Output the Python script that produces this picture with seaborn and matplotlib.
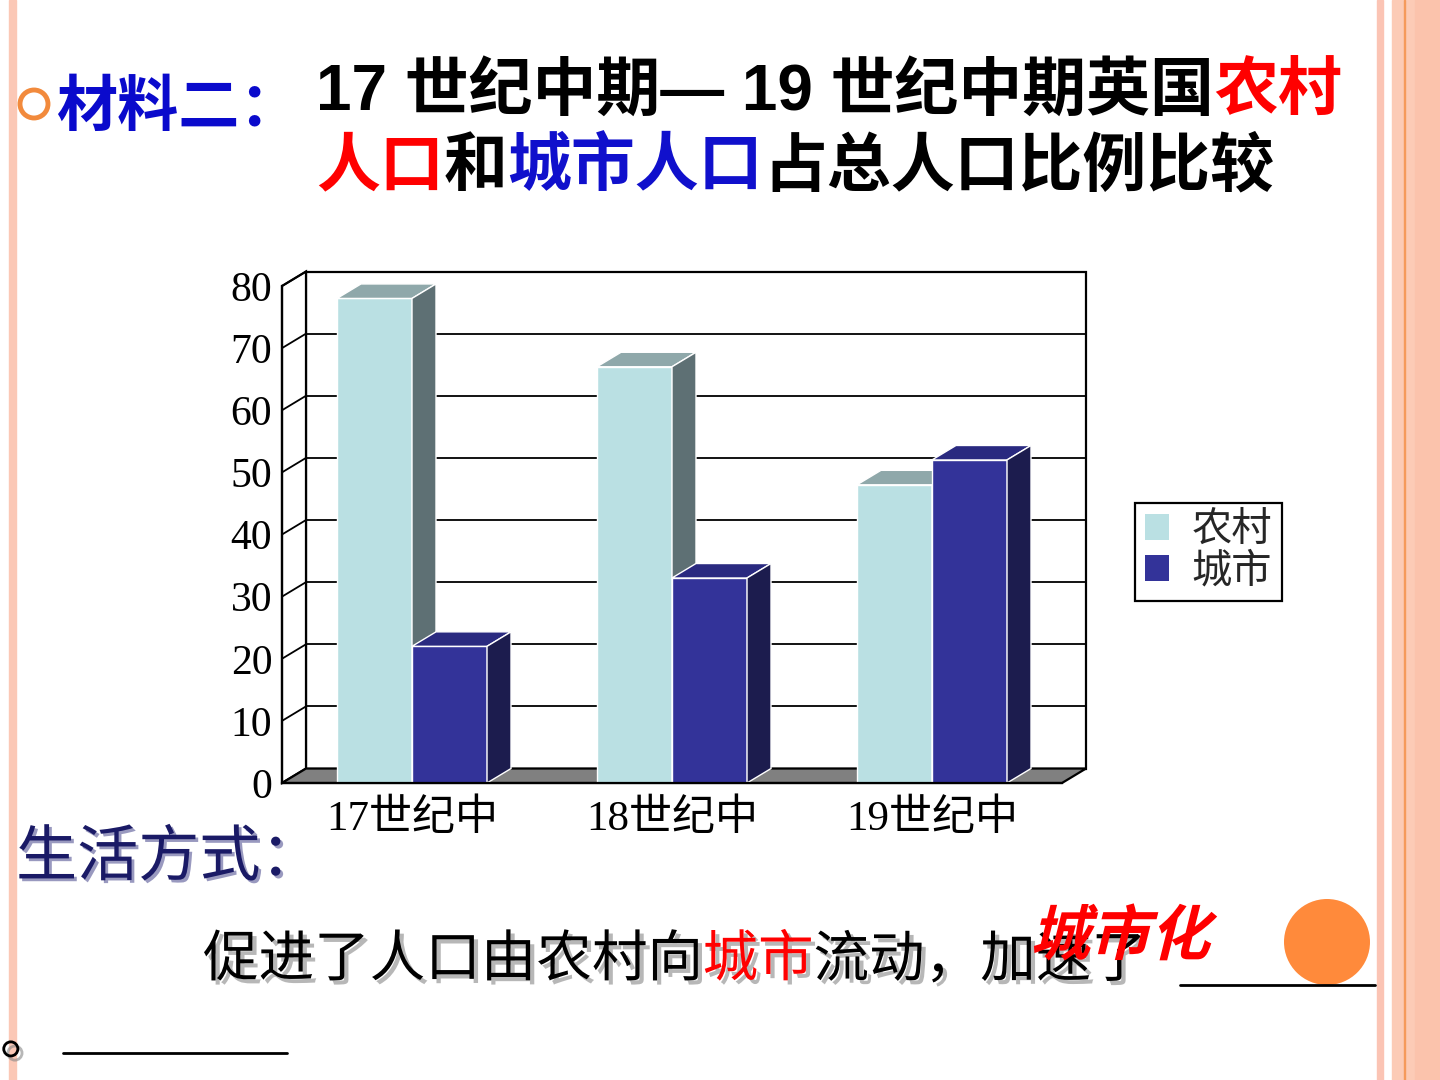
import matplotlib
matplotlib.use("Agg")
import matplotlib.pyplot as plt
import matplotlib.patheffects as pe
from matplotlib.patches import Rectangle, Polygon, Ellipse, Patch, PathPatch
from matplotlib.textpath import TextPath
from matplotlib.font_manager import FontProperties
from matplotlib.transforms import Affine2D
import seaborn as sns
import pandas as pd

# data (share of total population, %)
periods = ['17世纪中', '18世纪中', '19世纪中']
series = ['农村', '城市']
rural = [78, 67, 48]
urban = [22, 33, 52]
yticks = [0, 10, 20, 30, 40, 50, 60, 70, 80]

front_colors = ['#BAE0E3', '#333399']
top_colors = ['#8FA8AA', '#2A2A80']
side_colors = ['#5E7074', '#1C1C4E']

df = pd.DataFrame({
    '时期': periods * 2,
    '类型': [series[0]] * 3 + [series[1]] * 3,
    '比例': rural + urban,
})

sns.set_theme(style='white')
plt.rcParams['font.family'] = ['Liberation Sans', 'Noto Sans CJK SC', 'DejaVu Sans']
CJK = ['Liberation Sans', 'Noto Sans CJK SC']
SERIF = ['Liberation Serif', 'Noto Sans CJK SC']

W, H = 1440, 1080
fig = plt.figure(figsize=(14.4, 10.8), dpi=100)
fig.patch.set_facecolor('white')


def fx(x):
    return x / W


def fy(y):
    return 1 - y / H


# slide border stripes
fig.patches.append(Rectangle((fx(9), 0), fx(7), 1, transform=fig.transFigure, color='#FBC8B6', zorder=0))
fig.patches.append(Rectangle((fx(1377), 0), fx(6), 1, transform=fig.transFigure, color='#FBC4B4', zorder=0))
fig.patches.append(Rectangle((fx(1392), 0), fx(48), 1, transform=fig.transFigure, color='#FCCBB6', zorder=0))
fig.patches.append(Rectangle((fx(1415), 0), fx(25), 1, transform=fig.transFigure, color='#FBC3AC', zorder=0))
fig.patches.append(Rectangle((fx(1403.5), 0), fx(1.5), 1, transform=fig.transFigure, color='#F59A5C', zorder=0))

# chart (front plane of the 3d box)
ax = fig.add_axes([fx(282), fy(783), 780 / W, 497 / H])
ax.set_facecolor('none')
sns.barplot(data=df, x='时期', y='比例', hue='类型', palette=front_colors, saturation=1,
            width=0.577, edgecolor='white', linewidth=1, legend=False, ax=ax)

L, R = -0.5, 2.5
ddx, ddy = 0.0923, 2.33
ax.set_xlim(L, R)
ax.set_ylim(0, 80)

# back wall, side wall, gridlines, floor
ax.add_patch(Rectangle((L + ddx, ddy), R - L, 80, facecolor='white', edgecolor='black',
                       lw=1.6, clip_on=False, zorder=0.5))
ax.add_patch(Polygon([(L, 0), (L + ddx, ddy), (L + ddx, 80 + ddy), (L, 80)], closed=True,
                     facecolor='white', edgecolor='black', lw=1.6, clip_on=False, zorder=0.5))
for v in yticks[1:]:
    ax.plot([L + ddx, R + ddx], [v + ddy, v + ddy], color='black', lw=1.3, clip_on=False, zorder=0.6)
    ax.plot([L, L + ddx], [v, v + ddy], color='black', lw=1.3, clip_on=False, zorder=0.6)
ax.add_patch(Polygon([(L, 0), (R, 0), (R + ddx, ddy), (L + ddx, ddy)], closed=True,
                     facecolor='#808080', edgecolor='black', lw=1.6, clip_on=False, zorder=1))

# 3d faces of the bars
for i, cont in enumerate(ax.containers):
    for bar in cont:
        x0, w, h = bar.get_x(), bar.get_width(), bar.get_height()
        bar.set_zorder(3 + i)
        top = [(x0, h), (x0 + w, h), (x0 + w + ddx, h + ddy), (x0 + ddx, h + ddy)]
        side = [(x0 + w, 0), (x0 + w + ddx, ddy), (x0 + w + ddx, h + ddy), (x0 + w, h)]
        ax.add_patch(Polygon(top, closed=True, facecolor=top_colors[i], edgecolor='white',
                             lw=1, clip_on=False, zorder=3.1 + i))
        ax.add_patch(Polygon(side, closed=True, facecolor=side_colors[i], edgecolor='white',
                             lw=1, clip_on=False, zorder=3.1 + i))

for s in ['top', 'right']:
    ax.spines[s].set_visible(False)
for s in ['left', 'bottom']:
    ax.spines[s].set_color('black')
    ax.spines[s].set_linewidth(1.6)
    ax.spines[s].set_zorder(6)

ax.set_yticks(yticks)
ax.set_xticks([0, 1, 2])
ax.set_xticklabels(periods)
ax.set_xticks([-0.5, 0.5, 1.5, 2.5], minor=True)
ax.tick_params(axis='y', direction='in', length=6, width=1.5, color='black', labelsize=30, pad=7)
ax.tick_params(axis='x', which='major', length=0, labelsize=31, pad=12)
ax.tick_params(axis='x', which='minor', direction='in', length=7, width=1.5, color='black')
for lab in ax.get_yticklabels() + ax.get_xticklabels():
    lab.set_fontfamily(SERIF)
    lab.set_color('black')
ax.set_xlabel('')
ax.set_ylabel('')

# legend
handles = [Patch(facecolor=c, edgecolor='none') for c in front_colors]
leg = fig.legend(handles, series, loc='upper left', bbox_to_anchor=(fx(1135), fy(503)),
                 frameon=True, fancybox=False, framealpha=1, edgecolor='black',
                 prop=FontProperties(family=SERIF, size=29), labelspacing=0.08, borderpad=0.25,
                 handlelength=0.6, handleheight=0.6, handletextpad=0.55, borderaxespad=0)
leg.get_frame().set_linewidth(1.6)

renderer = fig.canvas.get_renderer()


def line_of_text(x, y, parts, **kw):
    # put differently coloured pieces one after another
    pos = fx(x)
    for text, color in parts:
        t = fig.text(pos, fy(y), text, color=color, va='center', ha='left', **kw)
        pos += t.get_window_extent(renderer).width / W


# header
fig.patches.append(Ellipse((fx(34), fy(104)), 28 / W, 28 / H, transform=fig.transFigure,
                           facecolor='none', edgecolor='#F28A3C', lw=3.5))
fig.text(fx(56), fy(110), '材料二：', color='#0A0ACC', fontsize=44, fontweight='bold',
         family=CJK, va='center', ha='left')
line_of_text(316, 92, [('17 世纪中期— 19 世纪中期英国', 'black'), ('农村', '#FF0000')],
             fontsize=46, fontweight='bold', family=CJK)
line_of_text(316, 168, [('人口', '#FF0000'), ('和', 'black'), ('城市人口', '#1010CC'),
                        ('占总人口比例比较', 'black')],
             fontsize=46, fontweight='bold', family=CJK)

# bottom text
fig.text(fx(16), fy(860), '生活方式：', color='#1A1A66', fontsize=44, family=CJK, va='center',
         path_effects=[pe.SimplePatchShadow(offset=(2, -2), shadow_rgbFace='#8080B0', alpha=0.8),
                       pe.Normal()])
shadow = [pe.SimplePatchShadow(offset=(3, -3), shadow_rgbFace='#888888', alpha=0.6), pe.Normal()]
line_of_text(203, 962, [('促进了人口由农村向', 'black'), ('城市', '#FF0000'),
                        ('流动，加速了', 'black')],
             fontsize=40, family=CJK, path_effects=shadow)
fig.lines.append(plt.Line2D([fx(1180), fx(1375)], [fy(985), fy(985)], transform=fig.transFigure,
                            color='black', lw=2))
fig.text(fx(0), fy(1040), '。', color='black', fontsize=40, family=CJK, va='center', ha='left',
         path_effects=shadow)
fig.lines.append(plt.Line2D([fx(63), fx(287)], [fy(1053), fy(1053)], transform=fig.transFigure,
                            color='black', lw=2))

fig.patches.append(Ellipse((fx(1327), fy(942)), 86 / W, 86 / H, transform=fig.transFigure,
                           facecolor='#FF8A3B', edgecolor='none'))

# slanted red answer text
tp = TextPath((0, 0), '城市化', size=60, prop=FontProperties(family='Noto Sans CJK SC', weight='bold'))
fig.patches.append(PathPatch(tp, transform=Affine2D().skew_deg(14, 0).translate(1030, H - 955),
                             facecolor='#FF0000', edgecolor='none', zorder=5))

fig.savefig('out.png', dpi=100)
plt.close(fig)
